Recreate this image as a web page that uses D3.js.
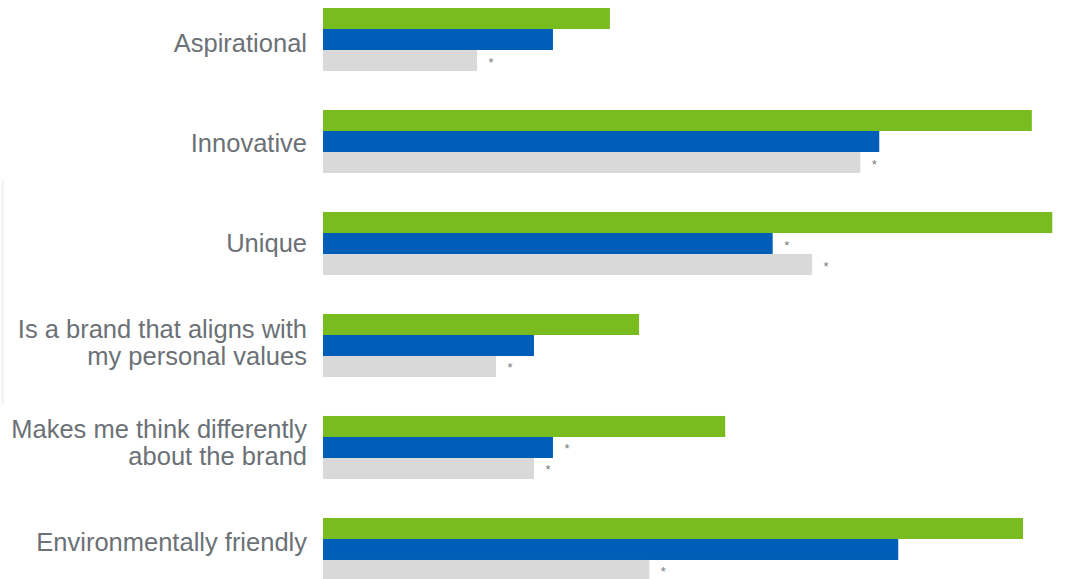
<!DOCTYPE html>
<html>
<head>
<meta charset="utf-8">
<script src="https://cdn.jsdelivr.net/npm/d3@7"></script>
<style>
  html, body { margin: 0; padding: 0; background: #ffffff; }
  svg { display: block; }
</style>
</head>
<body>
<svg id="chart" width="1066" height="579"></svg>
<script>
// Brand attribute ratings, three groups per attribute
const categories = [
  ["Aspirational"],
  ["Innovative"],
  ["Unique"],
  ["Is a brand that aligns with", "my personal values"],
  ["Makes me think differently", "about the brand"],
  ["Environmentally friendly"]
];
const seriesNames = ["green", "blue", "gray"];
const greenValues = [39.3, 97.1, 99.9, 43.3, 55.1, 95.9];
const blueValues  = [31.5, 76.2, 61.6, 28.9, 31.5, 78.8];
const grayValues  = [21.1, 73.6, 67.0, 23.7, 28.9, 44.7];
// significance markers (*) per series
const blueSig = [false, false, true, false, true, false];
const graySig = [true, true, true, true, true, true];

const colors = { green: "#78bc20", blue: "#005eb8", gray: "#d9d9d9" };
const valuesBySeries = { green: greenValues, blue: blueValues, gray: grayValues };
const sigBySeries = { green: [false, false, false, false, false, false], blue: blueSig, gray: graySig };

const svg = d3.select("#chart");
const x0 = 323;

const x = d3.scaleLinear().domain([0, 100]).range([x0, x0 + 730]);
const keys = categories.map((c, i) => i);
const y = d3.scaleBand().domain(keys).range([8, 581]).paddingInner(0.382).paddingOuter(0);
const ySub = d3.scaleBand().domain(seriesNames).range([0, y.bandwidth()]).padding(0);
// label baselines sit on a slightly tighter rhythm than the bar groups
const yLabel = d3.scalePoint().domain(keys).range([52, 551]);

// faint rule at the far left edge
svg.append("line")
  .attr("x1", 2.5).attr("x2", 2.5).attr("y1", 180).attr("y2", 405)
  .attr("stroke", "#f1f1f1").attr("stroke-width", 2);

const groups = svg.selectAll("g.cat").data(keys).join("g")
  .attr("class", "cat")
  .attr("transform", d => `translate(0,${y(d)})`);

seriesNames.forEach(s => {
  groups.append("rect")
    .attr("x", x(0))
    .attr("y", ySub(s))
    .attr("width", d => x(valuesBySeries[s][d]) - x(0))
    .attr("height", ySub.bandwidth())
    .attr("fill", colors[s]);

  groups.filter(d => sigBySeries[s][d])
    .append("text")
    .attr("x", d => x(valuesBySeries[s][d]) + 14)
    .attr("y", ySub(s) + ySub.bandwidth() / 2 + 6)
    .attr("text-anchor", "middle")
    .attr("font-family", "Liberation Sans, Arial, sans-serif")
    .attr("font-size", 13)
    .attr("fill", "#7a7a7a")
    .text("*");
});

// category labels, right-aligned against the bars
const labels = svg.selectAll("text.cat-label").data(keys).join("text")
  .attr("class", "cat-label")
  .attr("text-anchor", "end")
  .attr("font-family", "Liberation Sans, Arial, sans-serif")
  .attr("font-size", 25.5)
  .attr("fill", "#6b7176");

labels.each(function(d) {
  const lines = categories[d];
  const lh = 27;
  d3.select(this).selectAll("tspan").data(lines).join("tspan")
    .attr("x", 307)
    .attr("y", (ln, i) => yLabel(d) + (i - (lines.length - 1) / 2) * lh)
    .text(ln => ln);
});
</script>
</body>
</html>
